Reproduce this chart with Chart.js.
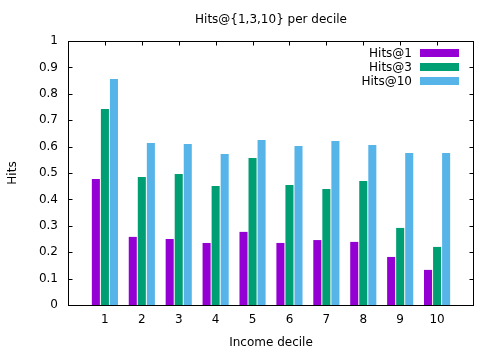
<!DOCTYPE html>
<html>
<head>
<meta charset="utf-8">
<script src="https://cdn.jsdelivr.net/npm/chart.js@4/dist/chart.umd.min.js"></script>
<style>
  html, body { margin: 0; padding: 0; background: #fff; }
  #wrap { width: 500px; height: 350px; }
</style>
</head>
<body>
<div id="wrap"><canvas id="c" width="500" height="350"></canvas></div>
<script>
// ---- data ----
const categories = ['1','2','3','4','5','6','7','8','9','10'];
const hits1  = [0.477, 0.258, 0.250, 0.235, 0.277, 0.235, 0.246, 0.239, 0.182, 0.133];
const hits3  = [0.742, 0.485, 0.496, 0.451, 0.557, 0.455, 0.439, 0.470, 0.292, 0.220];
const hits10 = [0.856, 0.614, 0.610, 0.572, 0.625, 0.602, 0.621, 0.606, 0.576, 0.576];
const yTickLabels = ['0','0.1','0.2','0.3','0.4','0.5','0.6','0.7','0.8','0.9','1'];
const seriesNames = ['Hits@1','Hits@3','Hits@10'];
const seriesColors = ['#9400d3','#009e73','#56b4e9'];

const FONT = 'DejaVu Sans';
const labels = [''].concat(categories, ['']);
const pad = arr => [null].concat(arr, [null]);

const framePlugin = {
  id: 'gnuframe',
  afterLayout(chart) {
    const tb = chart.titleBlock;
    if (tb) { tb.left = chart.chartArea.left; tb.right = chart.chartArea.right; tb.width = tb.right - tb.left; }
  },
  beforeDatasetsDraw(chart) {
    const {ctx, chartArea: a, scales} = chart;
    ctx.save();
    ctx.strokeStyle = '#000';
    ctx.lineWidth = 1;
    ctx.beginPath();
    const L = 4;
    scales.y.ticks.forEach(t => {
      const y = Math.round(scales.y.getPixelForValue(t.value)) + 0.5;
      ctx.moveTo(a.left, y); ctx.lineTo(a.left + L + 0.5, y);
      ctx.moveTo(a.right, y); ctx.lineTo(a.right - L - 0.5, y);
    });
    categories.forEach((c, i) => {
      const x = Math.round(scales.x.getPixelForValue(i + 1)) + 0.5;
      ctx.moveTo(x, a.top); ctx.lineTo(x, a.top + L + 0.5);
      ctx.moveTo(x, a.bottom); ctx.lineTo(x, a.bottom - L - 0.5);
    });
    ctx.stroke();
    ctx.restore();
  },
  afterDatasetsDraw(chart) {
    const {ctx, chartArea: a} = chart;
    ctx.save();
    ctx.strokeStyle = '#000';
    ctx.lineWidth = 1;
    ctx.strokeRect(a.left + 0.5, a.top + 0.5, a.right - a.left - 1, a.bottom - a.top);
    // key
    ctx.font = '12px "' + FONT + '"';
    ctx.textAlign = 'right';
    ctx.textBaseline = 'middle';
    chart.data.datasets.forEach((ds, i) => {
      const cy = a.top + 12 + i * 14;
      ctx.fillStyle = '#000';
      ctx.fillText(ds.label, a.right - 62, cy + 1);
      ctx.fillStyle = ds.backgroundColor;
      ctx.fillRect(a.right - 54, cy - 4, 39, 8);
    });
    ctx.restore();
  }
};

new Chart(document.getElementById('c'), {
  type: 'bar',
  data: {
    labels: labels,
    datasets: [
      { label: seriesNames[0], data: pad(hits1),  backgroundColor: seriesColors[0] },
      { label: seriesNames[1], data: pad(hits3),  backgroundColor: seriesColors[1] },
      { label: seriesNames[2], data: pad(hits10), backgroundColor: seriesColors[2] }
    ]
  },
  options: {
    responsive: false,
    animation: false,
    devicePixelRatio: 1,
    layout: { padding: { left: 0, right: 26, top: 0, bottom: 0 } },
    datasets: { bar: { categoryPercentage: 0.735, barPercentage: 0.89, borderWidth: 0 } },
    plugins: {
      legend: { display: false },
      tooltip: { enabled: false },
      title: {
        display: true,
        text: 'Hits@{1,3,10} per decile',
        color: '#000',
        font: { family: FONT, size: 12, weight: 'normal', lineHeight: 1.2 },
        padding: { top: 12.5, bottom: 14.1 }
      }
    },
    scales: {
      x: {
        type: 'category',
        offset: false,
        grid: { display: false, drawTicks: false },
        border: { display: false },
        ticks: { color: '#000', padding: 8, autoSkip: false, maxRotation: 0,
                 font: { family: FONT, size: 12 } },
        title: { display: true, text: 'Income decile', color: '#000',
                 font: { family: FONT, size: 12, lineHeight: 1.2 }, padding: { top: 0, bottom: 0 } },
        afterFit(s) { s.height = 45; }
      },
      y: {
        min: 0, max: 1,
        grid: { display: false, drawTicks: false },
        border: { display: false },
        ticks: { stepSize: 0.1, color: '#000', padding: 10,
                 font: { family: FONT, size: 12 },
                 callback: (v, i) => yTickLabels[i] },
        title: { display: true, text: 'Hits', color: '#000',
                 font: { family: FONT, size: 12, lineHeight: 1.2 }, padding: { top: 6, bottom: 0 } },
        afterFit(s) { s.width = 68; }
      }
    }
  },
  plugins: [framePlugin]
});
</script>
</body>
</html>
